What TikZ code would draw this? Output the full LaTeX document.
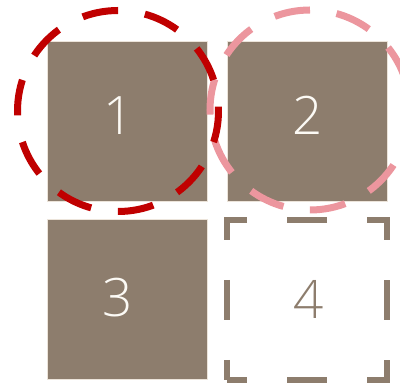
\documentclass[tikz,border=0pt]{standalone}
\usepackage{fontspec}
\IfFontExistsTF{Open Sans Light}{\setmainfont{Open Sans Light}}{\setmainfont{Open Sans}}
\definecolor{sq}{RGB}{141,125,109}
\definecolor{sqline}{RGB}{236,228,218}
\definecolor{dred}{RGB}{192,0,0}
\definecolor{pinkr}{RGB}{236,150,158}
\definecolor{digit}{RGB}{252,250,245}
\begin{document}
\begin{tikzpicture}[x=1pt,y=1pt,
  box/.style={rectangle,minimum size=160pt,inner sep=0pt,fill=sq,draw=sqline,line width=1pt},
  openbox/.style={rectangle,minimum size=160pt,inner sep=0pt,draw=sq,line width=6.5pt,dash pattern=on 40pt off 40pt,dash phase=20pt},
  num/.style={inner sep=0pt,font=\fontsize{53}{53}\selectfont},
  ring/.style={circle,inner sep=0pt,line width=7pt,dash pattern=on 36pt off 27.15pt,dash phase=31.6pt}]
\useasboundingbox (0,0) rectangle (400,385);
\node[box] (s1) at (127,263) {};
\node[box] (s2) at (307,263) {};
\node[box] (s3) at (127,85) {};
\node[openbox] (s4) at (307,85) {};
\node[num,text=digit] (t1) at (119,269) {1};
\node[num,text=digit] (t2) at (308,270) {2};
\node[num,text=digit] (t3) at (118,87) {3};
\node[num,text=sq] (t4) at (309,86) {4};
\node[ring,draw=pinkr,minimum size=200pt,dash pattern=on 36pt off 26.83pt,dash phase=31.4pt] (c2) at (310,275) {};
\node[ring,draw=dred,minimum size=201pt] (c1) at (118,274) {};
\end{tikzpicture}
\end{document}
